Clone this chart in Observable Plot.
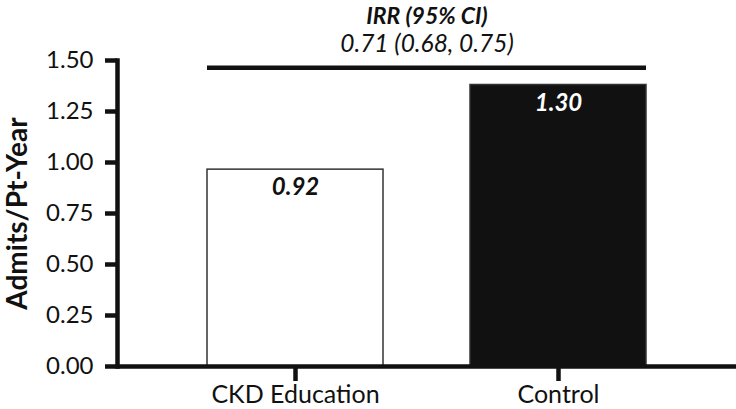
<!DOCTYPE html>
<html>
<head>
<meta charset="utf-8">
<script src="https://cdn.jsdelivr.net/npm/d3@7"></script>
<script src="https://cdn.jsdelivr.net/npm/@observablehq/plot@0.6"></script>
<style>
  html, body { margin: 0; padding: 0; background: #fff; }
  #chart { width: 736px; height: 409px; }
</style>
</head>
<body>
<div id="chart"></div>
<script>
const groups = ["CKD Education", "Control"];
const rates = [0.965, 1.38];
const rateLabels = ["0.92", "1.30"];
const barFills = ["#ffffff", "#111111"];
const labelFills = ["#111111", "#ffffff"];
const yTicks = [0, 0.25, 0.5, 0.75, 1.0, 1.25, 1.5];
const yLabel = "Admits/Pt-Year";
const irrTitle = "IRR (95% CI)";
const irrValue = "0.71 (0.68, 0.75)";
const irrLevel = 1.465;

const data = groups.map((g, i) => ({group: g, rate: rates[i], label: rateLabels[i], fill: barFills[i], lfill: labelFills[i]}));
const bracket = [{x1: groups[0], x2: groups[1], y: irrLevel}];

const chart = Plot.plot({
  width: 736,
  height: 409,
  marginLeft: 117,
  marginRight: 0,
  marginTop: 60,
  marginBottom: 43,
  style: {fontFamily: "Lato, 'Noto Sans', sans-serif", color: "#111", background: "#fff"},
  x: {domain: groups, paddingInner: 0.33, paddingOuter: 0.34},
  y: {domain: [0, 1.5]},
  marks: [
    Plot.barY(data, {x: "group", y: "rate", fill: "fill", stroke: "#333", strokeWidth: 1.5}),
    Plot.text(data, {x: "group", y: "rate", text: "label", fill: "lfill", dy: 18, fontSize: 24, fontWeight: "bold", fontStyle: "italic"}),
    Plot.ruleY([0], {stroke: "#111", strokeWidth: 4.5}),
    Plot.frame({anchor: "left", stroke: "#111", strokeWidth: 4.5}),
    Plot.axisY({ticks: yTicks, tickFormat: d3.format(".2f"), tickSize: 12, tickPadding: 12, strokeWidth: 4.5, fontSize: 24, label: null}),
    Plot.axisX({tickSize: 15, tickPadding: 4, strokeWidth: 4.5, fontSize: 25, label: null}),
    Plot.text([yLabel], {frameAnchor: "left", textAnchor: "middle", lineAnchor: "middle", rotate: -90, dx: -99, fontSize: 28, fontWeight: "bold", fill: "#111"}),
    Plot.ruleY(bracket, {x1: "x1", x2: "x2", y: "y", stroke: "#111", strokeWidth: 4.5}),
    Plot.text([irrTitle], {frameAnchor: "top", lineAnchor: "middle", dy: -44, fontSize: 23, fontWeight: "bold", fontStyle: "italic", fill: "#111"}),
    Plot.text([irrValue], {frameAnchor: "top", lineAnchor: "middle", dy: -16, fontSize: 24.5, fontStyle: "italic", fill: "#111"})
  ]
});
document.getElementById("chart").appendChild(chart);
</script>
</body>
</html>
